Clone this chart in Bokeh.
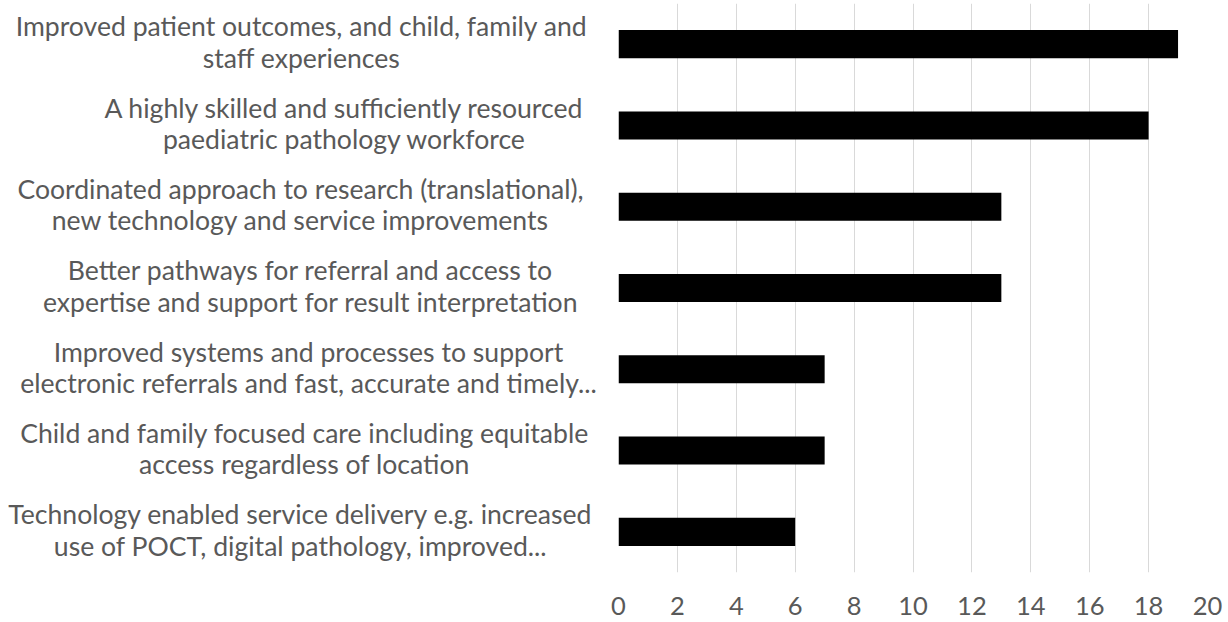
from bokeh.plotting import figure
from bokeh.layouts import row
from bokeh.models import Range1d, FixedTicker, ColumnDataSource
from bokeh.core.properties import value
from bokeh.embed import file_html
from bokeh.resources import INLINE

categories = [
    "Improved patient outcomes, and child, family and\nstaff experiences",
    "A highly skilled and sufficiently resourced\npaediatric pathology workforce",
    "Coordinated approach to research (translational),\nnew technology and service improvements",
    "Better pathways for referral and access to\nexpertise and support for result interpretation",
    "Improved systems and processes to support\nelectronic referrals and fast, accurate and timely...",
    "Child and family focused care including equitable\naccess regardless of location",
    "Technology enabled service delivery e.g. increased\nuse of POCT, digital pathology, improved...",
]
values = [19, 18, 13, 13, 7, 7, 6]
x_ticks = [0, 2, 4, 6, 8, 10, 12, 14, 16, 18, 20]

# layout (screen px) helpers, not data
W, H = 1228, 622
FRAME_L, FRAME_R = 618, 1207
PAD = 20
LEFT_W = FRAME_L - PAD
label_centers_px = [301, 344, 300, 310, 308, 304, 300]

FONT = "Lato"
GREY = "#595959"
TOP, BOTTOM = 3, 50

n = len(values)
ypos = list(range(n))

# label panel
lp = figure(width=LEFT_W, height=H, output_backend="svg", toolbar_location=None,
            x_range=Range1d(0, LEFT_W), y_range=Range1d(n - 0.5, -0.5),
            min_border_left=0, min_border_right=0,
            min_border_top=TOP, min_border_bottom=BOTTOM)
lp.axis.visible = False
lp.grid.visible = False
lp.outline_line_color = None
src = ColumnDataSource(dict(x=label_centers_px, y=ypos, t=categories))
lp.text(x="x", y="y", text="t", source=src, text_align="center",
        text_baseline="middle", text_font=value(FONT), text_font_size="26.6px",
        text_color=GREY, text_line_height=0.98, y_offset=-2)

# bar panel
p = figure(width=W - LEFT_W, height=H, output_backend="svg", toolbar_location=None,
           x_range=Range1d(0, 20), y_range=Range1d(n - 0.5, -0.5),
           min_border_left=PAD, min_border_right=W - FRAME_R,
           min_border_top=TOP, min_border_bottom=BOTTOM)
p.outline_line_color = None
p.hbar(y=ypos, left=0, right=values, height=0.345,
       fill_color="black", line_color=None)

p.yaxis.visible = False
p.ygrid.visible = False
p.xgrid.ticker = FixedTicker(ticks=x_ticks)
p.xgrid.grid_line_color = "#d9d9d9"
p.xgrid.grid_line_width = 1

xa = p.xaxis[0]
xa.ticker = FixedTicker(ticks=x_ticks)
xa.axis_line_color = None
xa.major_tick_line_color = None
xa.minor_tick_line_color = None
xa.major_label_text_font = FONT
xa.major_label_text_font_size = "25.5px"
xa.major_label_text_color = GREY
xa.major_label_standoff = 18

layout = row(lp, p, spacing=0)
open("out.html", "w").write(file_html(layout, INLINE))
